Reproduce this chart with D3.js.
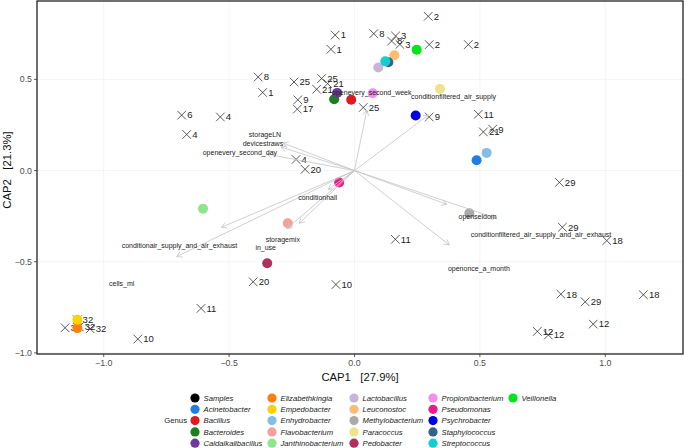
<!DOCTYPE html>
<html><head><meta charset="utf-8">
<script src="https://cdn.jsdelivr.net/npm/d3@7"></script>
<style>body{margin:0;background:#fff}svg{display:block;font-family:"Liberation Sans",Arial,sans-serif}</style>
</head><body><svg id="c" width="684" height="448"></svg>
<script>
// ---- data ----
const speciesNames = ["Acinetobacter","Bacillus","Bacteroides","Caldalkalibacillus","Elizabethkingia","Empedobacter","Enhydrobacter","Flavobacterium","Janthinobacterium","Lactobacillus","Leuconostoc","Methylobacterium","Paracoccus","Pedobacter","Propionibacterium","Pseudomonas","Psychrobacter","Staphylococcus","Streptococcus","Veillonella"];
const speciesX = [0.487,-0.013,-0.081,-0.069,-1.105,-1.105,0.527,-0.266,-0.604,0.095,0.159,0.458,0.341,-0.348,0.073,-0.061,0.244,0.135,0.123,0.248];
const speciesY = [0.057,0.388,0.391,0.426,-0.864,-0.818,0.097,-0.289,-0.209,0.565,0.632,-0.234,0.448,-0.508,0.424,-0.065,0.302,0.594,0.599,0.663];
const genusColors = ["#000000","#1f7fe6","#e0191e","#1a7f1f","#6a3d9a","#ff7f0e","#ffd200","#85bde6","#f4a09c","#8ee68c","#c8b4d8","#fdbc74","#a9a9a9","#ece38c","#b0305c","#f48cf0","#ee1a8a","#0000e6","#33628a","#17cccc","#00e61a"];
const legendLabels = ["Samples"].concat(speciesNames);

const sampleLabels = ["2","2","2","1","1","8","3","8","3","8","1","25","25","21","21","9","17","25","9","6","4","4","4","20","11","21","9","29","29","18","18","29","18","12","12","12","11","10","20","11","10","32","32","32","32"];
const sampleX = [0.294,0.298,0.454,-0.077,-0.094,0.077,0.164,0.148,0.181,-0.384,-0.366,-0.241,-0.131,-0.107,-0.151,-0.226,-0.228,0.035,0.298,-0.689,-0.535,-0.669,-0.233,-0.197,0.494,0.514,0.551,0.817,0.829,1.006,0.823,0.920,1.152,0.952,0.729,0.773,0.163,-0.074,-0.404,-0.612,-0.864,-1.154,-1.106,-1.098,-1.054];
const sampleY = [0.846,0.691,0.691,0.743,0.665,0.751,0.738,0.710,0.692,0.513,0.428,0.486,0.505,0.477,0.446,0.388,0.337,0.346,0.294,0.304,0.294,0.198,0.061,0.007,0.309,0.212,0.227,-0.065,-0.311,-0.384,-0.678,-0.720,-0.681,-0.842,-0.882,-0.902,-0.377,-0.625,-0.610,-0.756,-0.924,-0.862,-0.818,-0.857,-0.868];

const envNames = ["storageLN","devicestraws","openevery_second_day","openevery_second_week","conditionfiltered_air_supply","conditionhall","storagemix","in_use","conditionair_supply_and_air_exhaust","cells_ml","openseldom","conditionfiltered_air_supply_and_air_exhaust","openonce_a_month"];
const envX = [-0.285,-0.293,-0.349,0.049,0.294,-0.104,-0.220,-0.270,-0.530,-0.709,0.368,0.567,0.378];
const envY = [0.151,0.129,0.090,0.331,0.304,-0.103,-0.289,-0.319,-0.311,-0.472,-0.185,-0.262,-0.408];
const envLabelX = [-0.357,-0.365,-0.457,0.069,0.395,-0.147,-0.286,-0.354,-0.698,-0.928,0.491,0.744,0.496];
const envLabelY = [0.200,0.150,0.101,0.426,0.408,-0.147,-0.380,-0.423,-0.412,-0.620,-0.251,-0.349,-0.536];

const xTicks = [-1.0,-0.5,0.0,0.5,1.0];
const yTicks = [-1.0,-0.5,0.0,0.5];

// ---- chart ----
const svg = d3.select("#c");
const L=37,R=683,T=1,B=354;
const x = d3.scaleLinear().domain([-1.266,1.31]).range([L,R]);
const y = d3.scaleLinear().domain([-1.006,0.93]).range([B,T]);
const color = d3.scaleOrdinal().domain(legendLabels).range(genusColors);

svg.append("rect").attr("x",L).attr("y",T).attr("width",R-L).attr("height",B-T).attr("fill","#fff");
const grid = svg.append("g").attr("stroke","#ececec").attr("stroke-width",0.6);
xTicks.forEach(t=>grid.append("line").attr("x1",x(t)).attr("x2",x(t)).attr("y1",T).attr("y2",B));
yTicks.forEach(t=>grid.append("line").attr("y1",y(t)).attr("y2",y(t)).attr("x1",L).attr("x2",R));

// samples
const samp = svg.append("g");
const s = 4.3;
sampleX.forEach((sx,i)=>{
  const px=x(sx), py=y(sampleY[i]);
  samp.append("path").attr("d",`M${px-s},${py-s}L${px+s},${py+s}M${px-s},${py+s}L${px+s},${py-s}`)
    .attr("stroke","#333").attr("stroke-width",0.8).attr("fill","none");
});
sampleX.forEach((sx,i)=>{
  samp.append("text").attr("x",x(sx)+5.5).attr("y",y(sampleY[i])).attr("dy","0.35em")
    .attr("font-size",9.5).attr("fill","#222").text(sampleLabels[i]);
});

// species
svg.append("g").selectAll("circle").data(speciesNames).join("circle")
  .attr("cx",(d,i)=>x(speciesX[i])).attr("cy",(d,i)=>y(speciesY[i])).attr("r",5)
  .attr("fill",d=>color(d));

// arrows
const ag = svg.append("g").attr("stroke","#c4c4c4").attr("stroke-width",0.8).attr("fill","none");
const ox=x(0), oy=y(0);
envX.forEach((ex,i)=>{
  const px=x(ex), py=y(envY[i]);
  const ang=Math.atan2(py-oy,px-ox), hl=6, ha=Math.PI/6;
  const a1=[px-hl*Math.cos(ang-ha), py-hl*Math.sin(ang-ha)];
  const a2=[px-hl*Math.cos(ang+ha), py-hl*Math.sin(ang+ha)];
  ag.append("path").attr("d",`M${ox},${oy}L${px},${py}M${a1[0]},${a1[1]}L${px},${py}L${a2[0]},${a2[1]}`);
});
svg.append("g").selectAll("text").data(envNames).join("text")
  .attr("x",(d,i)=>x(envLabelX[i])).attr("y",(d,i)=>y(envLabelY[i])).attr("dy","0.35em")
  .attr("text-anchor","middle").attr("font-size",7).attr("fill","#222").text(d=>d);

// border
svg.append("rect").attr("x",L).attr("y",T).attr("width",R-L).attr("height",B-T)
  .attr("fill","none").attr("stroke","#222").attr("stroke-width",1.3);

// axes
const xa = svg.append("g");
xTicks.forEach(t=>{
  xa.append("line").attr("x1",x(t)).attr("x2",x(t)).attr("y1",B).attr("y2",B+3).attr("stroke","#333").attr("stroke-width",0.8);
  xa.append("text").attr("x",x(t)).attr("y",B+12).attr("text-anchor","middle").attr("font-size",8.8).attr("fill","#4d4d4d").text(d3.format(".1f")(t).replace("-","\u2212"));
});
yTicks.forEach(t=>{
  xa.append("line").attr("x1",L-3).attr("x2",L).attr("y1",y(t)).attr("y2",y(t)).attr("stroke","#333").attr("stroke-width",0.8);
  xa.append("text").attr("x",L-5).attr("y",y(t)).attr("dy","0.35em").attr("text-anchor","end").attr("font-size",8.8).attr("fill","#4d4d4d").text(d3.format(".1f")(t).replace("-","\u2212"));
});
svg.append("text").attr("x",360).attr("y",381).attr("text-anchor","middle").attr("font-size",11.3)
  .attr("fill","#111").style("white-space","pre").text("CAP1   [27.9%]");
svg.append("text").attr("transform","translate(11,170) rotate(-90)").attr("text-anchor","middle").attr("font-size",11.3)
  .attr("fill","#111").style("white-space","pre").text("CAP2   [21.3%]");

// legend
const colX=[195,272,354,433,513];
const rowY=[398,409.3,420.6,431.9,443.2];
const lg=svg.append("g");
lg.append("text").attr("x",187).attr("y",rowY[2]).attr("dy","0.35em").attr("text-anchor","end").attr("font-size",7.7).attr("fill","#222").text("Genus");
legendLabels.forEach((d,i)=>{
  const c=Math.floor(i/5), r=i%5;
  lg.append("circle").attr("cx",colX[c]).attr("cy",rowY[r]).attr("r",4.6).attr("fill",color(d));
  lg.append("text").attr("x",colX[c]+8.5).attr("y",rowY[r]).attr("dy","0.35em").attr("font-size",7.7)
    .attr("font-style","italic").attr("fill","#222").text(d);
});
</script></body></html>
